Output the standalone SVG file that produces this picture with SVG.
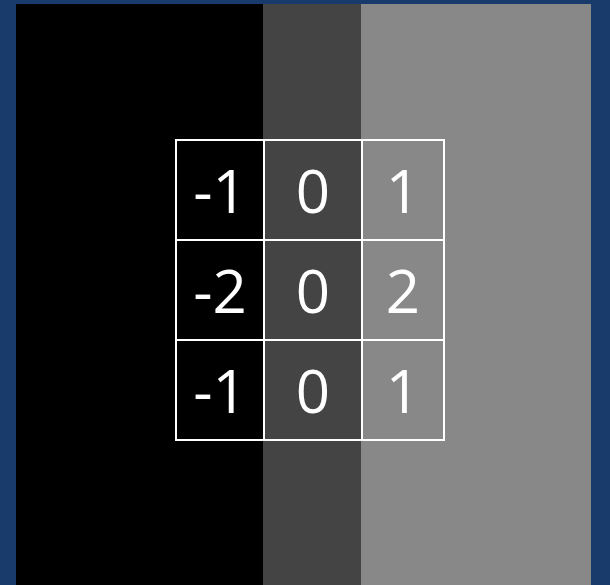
<svg xmlns="http://www.w3.org/2000/svg" width="610" height="585" viewBox="0 0 610 585">
<style>
.c{fill:none;stroke:#fff;stroke-width:2}
.t{font-family:"Open Sans","Noto Sans",sans-serif;font-size:60px;fill:#fff;text-anchor:middle}
</style>
<rect width="610" height="585" fill="#183b6c"/>
<rect x="16" y="4" width="247" height="581" fill="#000"/>
<rect x="263" y="4" width="98" height="581" fill="#444"/>
<rect x="361" y="4" width="230" height="581" fill="#888"/>
<g id="grid">
<rect class="c" x="176" y="140" width="88" height="100"/>
<rect class="c" x="264" y="140" width="98" height="100"/>
<rect class="c" x="362" y="140" width="82" height="100"/>
<rect class="c" x="176" y="240" width="88" height="100"/>
<rect class="c" x="264" y="240" width="98" height="100"/>
<rect class="c" x="362" y="240" width="82" height="100"/>
<rect class="c" x="176" y="340" width="88" height="100"/>
<rect class="c" x="264" y="340" width="98" height="100"/>
<rect class="c" x="362" y="340" width="82" height="100"/>
</g>
<g id="labels" class="t">
<text x="220" y="213">-1</text>
<text x="313" y="213">0</text>
<text x="403" y="213">1</text>
<text x="220" y="313">-2</text>
<text x="313" y="313">0</text>
<text x="403" y="313">2</text>
<text x="220" y="413">-1</text>
<text x="313" y="413">0</text>
<text x="403" y="413">1</text>
</g>
</svg>
